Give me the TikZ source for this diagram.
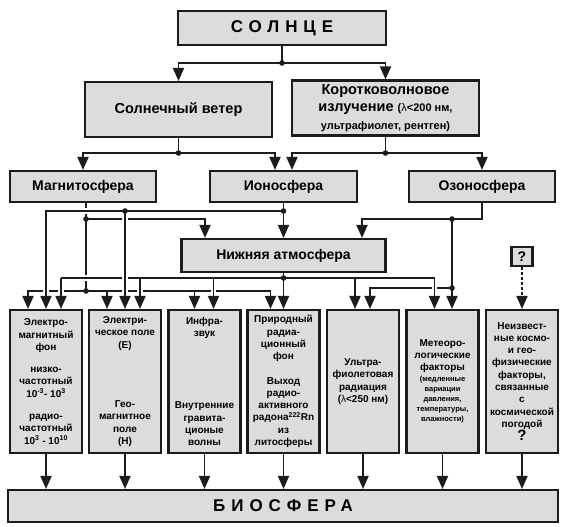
\documentclass[tikz,border=0pt]{standalone}
\usepackage{fontspec}
\setmainfont{Liberation Sans}
\usetikzlibrary{arrows.meta}

\definecolor{boxfill}{HTML}{DCDCDC}
\definecolor{ink}{HTML}{1C1C1C}
\newcommand{\smallfnt}{\fontsize{11}{13}\selectfont}
\newcommand{\notefnt}{\fontsize{7.5}{9}\selectfont}

\begin{document}
\begin{tikzpicture}[x=1pt,y=-1pt,
    blk/.style={draw=ink, line width=2.1pt, fill=boxfill, inner sep=0pt, align=center},
    sunfont/.style={font=\bfseries\fontsize{17}{20}\selectfont},
    topfont/.style={font=\bfseries\fontsize{14.5}{17.5}\selectfont},
    rowfont/.style={font=\bfseries\fontsize{14}{16}\selectfont},
    col/.style={blk, minimum width=72pt, minimum height=143pt, font=\bfseries\fontsize{10}{12.3}\selectfont},
    wire/.style={draw=ink, line width=1.8pt},
    arr/.style={wire, -{Triangle[width=11pt,length=13pt]}},
    hop/.style={preaction={draw=white, line width=5.5pt, -, shorten <=4pt, shorten >=4pt}}]
    \useasboundingbox (0,0) rectangle (565,527);
    \node[blk, sunfont, minimum width=208pt, minimum height=34pt] (sun) at (282,28) {\addfontfeature{LetterSpace=35}СОЛНЦЕ};
    \node[blk, topfont, minimum width=187pt, minimum height=55pt] (wind) at (178.5,109.5) {Солнечный ветер};
    \node[blk, topfont, minimum width=187pt, minimum height=55pt] (short) at (385.5,108) {Коротковолновое\\излучение {\smallfnt({\mdseries λ}<200 нм,}\\{\smallfnt ультрафиолет, рентген)}};
    \node[blk, rowfont, minimum width=146pt, minimum height=31pt] (mag) at (83,186.5) {Магнитосфера};
    \node[blk, rowfont, minimum width=147pt, minimum height=31pt] (iono) at (283.5,186.5) {Ионосфера};
    \node[blk, rowfont, minimum width=146pt, minimum height=31pt] (ozone) at (482,186.5) {Озоносфера};
    \node[blk, rowfont, minimum width=204pt, minimum height=33pt] (lower) at (283.5,255.5) {Нижняя атмосфера};
    \node[blk, rowfont, minimum width=21pt, minimum height=19pt] (q) at (522,256.5) {?};
    \node[col] (b1) at (46,381.5) {Электро-\\магнитный\\фон\\[10pt]низко-\\частотный\\10\textsuperscript{-3}- 10\textsuperscript{3}\\[10pt]радио-\\частотный\\10\textsuperscript{3} - 10\textsuperscript{10}};
    \node[col] (b2) at (125,381.5) {Электри-\\ческое поле\\(E)\\[47pt]Гео-\\магнитное\\поле\\(H)};
    \node[col] (b3) at (204.5,381.5) {Инфра-\\звук\\[60pt]Внутренние\\гравита-\\ционые\\волны};
    \node[col] (b4) at (283.5,381.5) {Природный\\радиа-\\ционный\\фон\\[12pt]Выход\\радио-\\активного\\радона\textsuperscript{222}Rn\\из\\литосферы};
    \node[col] (b5) at (363,381.5) {Ультра-\\фиолетовая\\радиация\\({\mdseries λ}<250 нм)};
    \node[col] (b6) at (442.5,381.5) {Метеоро-\\логические\\факторы\\[-1.3pt]{\notefnt (медленные}\\[-2.3pt]{\notefnt вариации}\\[-2.3pt]{\notefnt давления,}\\[-2.3pt]{\notefnt температуры,}\\[-2.3pt]{\notefnt влажности)}};
    \node[col] (b7) at (522,381.5) {Неизвест-\\ные космо-\\и гео-\\физические\\факторы,\\связанные\\с\\космической\\погодой\\{\fontsize{15}{15}\selectfont ?}};
    \node[blk, sunfont, minimum width=550pt, minimum height=32pt] (bio) at (283,506) {\addfontfeature{LetterSpace=35}БИОСФЕРА};

    \coordinate (s0) at (282,63);
    \coordinate (w0) at (178.5,153);
    \coordinate (k0) at (385.5,153);
    \coordinate (m1) at (86,219);
    \coordinate (m2) at (86,291);
    \coordinate (i1) at (283.5,211);
    \coordinate (i2) at (b2.north |- i1);
    \coordinate (l1) at (283.5,278);
    \coordinate (o1) at (452,219);
    \coordinate (o2) at (452,288);
    \coordinate (t1) at ([xshift=15pt]b1.north |- l1);
    \coordinate (t2) at ([xshift=15pt]b2.north |- l1);
    \coordinate (t3) at ([xshift=9pt]b3.north |- l1);
    \coordinate (t5) at ([xshift=-8pt]b5.north |- l1);
    \coordinate (t6) at ([xshift=-8pt]b6.north |- l1);

    \draw[wire] (sun) -- (s0);
    \draw[arr] (s0) -| (wind);
    \draw[arr] (s0) -| (short);
    \draw[wire] (wind) -- (w0);
    \draw[arr] (w0) -| (mag);
    \draw[arr] (w0) -| ([xshift=-8.5pt]iono.north);
    \draw[wire] (short) -- (k0);
    \draw[arr] (k0) -| ([xshift=8.5pt]iono.north);
    \draw[arr] (k0) -| (ozone);

    % magnetosphere
    \draw[wire] (mag.south -| m1) -- (m2);
    \draw[arr] (m2) -| ([xshift=-18pt]b1.north);
    \draw[arr] (m2) -| ([xshift=-18pt]b2.north);
    \draw[arr] (m2) -| ([xshift=-10pt]b3.north);
    \draw[arr] (m2) -| ([xshift=-13pt]b4.north);
    \draw[arr] (m1) -| ([xshift=-78.5pt]lower.north);

    % ozonosphere
    \draw[arr] (ozone) |- (o1) -| ([xshift=78.5pt]lower.north);
    \draw[arr] (o1) -- (o1 |- b6.north);
    \draw[arr] (o2) -| ([xshift=7pt]b5.north);

    % ionosphere
    \draw[arr] (iono) -- (lower);
    \draw[arr, hop] (i1) -| (b1);

    % lower atmosphere
    \draw[wire, hop] (t1) -- (t6);
    \foreach \t/\b/\s in {t1/b1/15, t2/b2/15, t3/b3/9, t5/b5/-8, t6/b6/-8}
        \draw[arr, hop] (\t) -- ([xshift=\s pt]\b.north);
    \draw[arr] (lower) -- (b4);
    \draw[arr, hop] (i2) -- (b2);

    \draw[arr, dash pattern=on 3pt off 2pt] (q) -- (b7);
    \foreach \b in {b1,b2,b3,b4,b5,b6,b7}
        \draw[arr] (\b) -- (\b.south |- bio.north);

    \foreach \p in {s0,w0,k0,m1,m2,i1,i2,l1,o1,o2}
        \fill[ink] (\p) circle (2.8pt);
\end{tikzpicture}
\end{document}
